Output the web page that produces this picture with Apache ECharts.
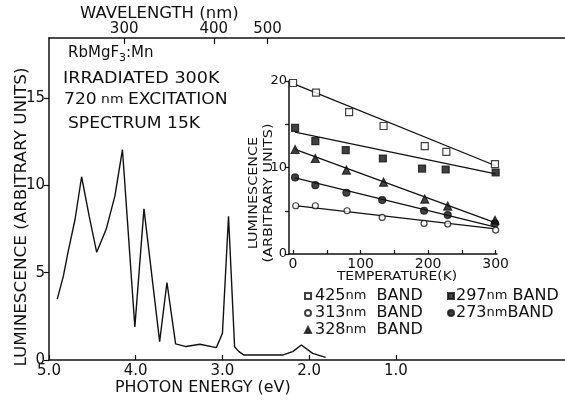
<!DOCTYPE html>
<html>
<head>
<meta charset="utf-8">
<script src="https://cdn.jsdelivr.net/npm/echarts@6/dist/echarts.min.js"></script>
<style>
  html, body { margin: 0; padding: 0; background: #fff; }
  #chart { width: 565px; height: 400px; }
</style>
</head>
<body>
<div id="chart"></div>
<script>
// main spectrum, photon energy (eV) vs luminescence
const energy = [4.905, 4.835, 4.78, 4.70, 4.624, 4.535, 4.45, 4.34, 4.24, 4.153, 4.01, 3.905, 3.724, 3.64, 3.54, 3.42, 3.26, 3.07, 3.0, 2.93, 2.86, 2.81, 2.755, 2.30, 2.19, 2.09, 1.96, 1.81];
const luminescence = [3.49, 4.79, 6.2, 8.05, 10.5, 8.2, 6.17, 7.5, 9.4, 12.05, 1.9, 8.66, 1.05, 4.44, 0.92, 0.77, 0.9, 0.71, 1.53, 8.24, 0.76, 0.48, 0.29, 0.29, 0.48, 0.86, 0.38, 0.15];

const energyTicks = [5, 4, 3, 2, 1];
const lumTicks = [0, 5, 10, 15];
const wavelengthTicks = [300, 400, 500];

// inset: temperature dependence of bands
const temps = [0, 34, 83, 134, 195, 227, 299];
const band425 = [19.77, 18.65, 16.4, 14.8, 12.46, 11.8, 10.4];
const temps297 = [3, 33, 78, 133, 191, 226, 300];
const band297 = [14.58, 13.04, 12.0, 11.04, 9.88, 9.77, 9.42];
const temps328 = [3, 33, 79, 134, 195, 229, 299];
const band328 = [12.08, 11.04, 9.7, 8.3, 6.35, 5.54, 3.9];
const temps273 = [3, 33, 79, 132, 194, 229, 299];
const band273 = [8.85, 7.96, 7.08, 6.23, 5.0, 4.5, 3.54];
const temps313 = [4, 33, 80, 132, 194, 229, 300];
const band313 = [5.58, 5.58, 5.0, 4.23, 3.54, 3.46, 2.77];

// straight fits drawn through each band
const fitT = [3, 300];
const fit425 = [19.6, 10.2];
const fit297 = [14.1, 9.25];
const fit328 = [12.1, 3.6];
const fit273 = [8.8, 3.1];
const fit313 = [5.6, 2.9];

const tempTicks = [0, 50, 100, 150, 200, 250, 300];
const tempLabels = [0, 100, 200, 300];
const insetTicks = [0, 5, 10, 15, 20];
const insetLabels = [0, 10, 20];

const font = 'DejaVu Sans';
const ink = '#111';

const zip = (a, b) => a.map((v, i) => [v, b[i]]);

const chart = echarts.init(document.getElementById('chart'));

const axisLine = { show: true, onZero: false, lineStyle: { color: ink, width: 1.5 } };

function pointSeries(name, t, v, symbol, filled, size) {
  return {
    name: name, type: 'scatter', xAxisIndex: 2, yAxisIndex: 1,
    data: zip(t, v), symbol: symbol, symbolSize: size,
    itemStyle: { color: filled ? ink : '#fff', borderColor: ink, borderWidth: 1.2 },
    z: 5
  };
}
function fitSeries(v) {
  return {
    type: 'line', xAxisIndex: 2, yAxisIndex: 1, data: zip(fitT, v),
    symbol: 'none', lineStyle: { color: ink, width: 1.3 }, silent: true
  };
}

const legendRich = {
  n: { fontFamily: font, fontSize: 16, color: ink },
  u: { fontFamily: font, fontSize: 13, color: ink },
  b: { fontFamily: font, fontSize: 16, color: ink }
};
// gap between "nm" and "BAND" differs per entry in the original
const legendGap = { '425': '  ', '313': '  ', '328': '  ', '297': ' ', '273': '' };
const legendFmt = function (name) {
  const num = name.split(' ')[0];
  return '{n|' + num + '}{u|nm}{b|' + legendGap[num] + 'BAND}';
};

// plain text label helper, stretched a little to match the wide lettering
function label(x, y, text, size, sx, rot) {
  return {
    type: 'text', x: x, y: y, rotation: rot || 0, scaleX: sx,
    style: { text: text, fontFamily: font, fontSize: size, fill: ink, align: rot ? 'center' : 'left', verticalAlign: rot ? 'middle' : 'top', lineHeight: size + 2 }
  };
}

const option = {
  animation: false,
  backgroundColor: '#fff',
  grid: [
    { left: 49, top: 38, right: 0, bottom: 40 },
    { left: 289, top: 81, width: 208, height: 173 }
  ],
  xAxis: [
    {
      type: 'value', gridIndex: 0, min: -0.95, max: 5, inverse: true,
      axisLine: axisLine,
      axisTick: { inside: true, length: 5, lineStyle: { color: ink, width: 1.2 }, customValues: energyTicks },
      axisLabel: { customValues: energyTicks, formatter: v => v.toFixed(1), fontFamily: font, fontSize: 15, color: ink, margin: 4 },
      splitLine: { show: false }
    },
    {
      type: 'value', gridIndex: 0, position: 'top', min: -0.95, max: 5, inverse: true,
      axisLine: axisLine,
      axisTick: { inside: true, length: 6, lineStyle: { color: ink, width: 1.2 }, customValues: wavelengthTicks.map(w => 1240 / w) },
      axisLabel: { customValues: wavelengthTicks.map(w => 1240 / w), formatter: v => String(Math.round(1240 / v)), fontFamily: font, fontSize: 15, color: ink, margin: 1 },
      splitLine: { show: false }
    },
    {
      type: 'value', gridIndex: 1, min: -6, max: 302,
      axisLine: axisLine,
      axisTick: { inside: true, length: 4, lineStyle: { color: ink, width: 1.2 }, customValues: tempTicks },
      axisLabel: { customValues: tempLabels, fontFamily: font, fontSize: 14, color: ink, margin: 3 },
      splitLine: { show: false }
    }
  ],
  yAxis: [
    {
      type: 'value', gridIndex: 0, min: 0, max: 18.45,
      axisLine: axisLine,
      axisTick: { length: 5, lineStyle: { color: ink, width: 1.2 }, customValues: lumTicks },
      axisLabel: { customValues: lumTicks, fontFamily: font, fontSize: 15, color: ink, margin: 4 },
      splitLine: { show: false }
    },
    {
      type: 'value', gridIndex: 1, min: 0, max: 20,
      axisLine: axisLine,
      axisTick: { length: 4, lineStyle: { color: ink, width: 1.2 }, customValues: insetTicks },
      axisLabel: { customValues: insetLabels, fontFamily: font, fontSize: 13, color: ink, margin: 2 },
      splitLine: { show: false }
    }
  ],
  legend: [
    {
      left: 299, top: 283, orient: 'vertical', itemGap: 1, itemWidth: 6, itemHeight: 6,
      data: [
        { name: '425 BAND', icon: 'rect' },
        { name: '313 BAND', icon: 'circle' },
        { name: '328 BAND', icon: 'triangle' }
      ],
      formatter: legendFmt, textStyle: { rich: legendRich, padding: [0, 0, 0, -1] }
    },
    {
      left: 442, top: 283, orient: 'vertical', itemGap: 1, itemWidth: 6, itemHeight: 6,
      data: [
        { name: '297 BAND', icon: 'rect' },
        { name: '273 BAND', icon: 'circle' }
      ],
      formatter: legendFmt, textStyle: { rich: legendRich, padding: [0, 0, 0, -3] }
    }
  ],
  graphic: [
    {
      type: 'text', left: 68, top: 46,
      style: {
        text: '{a|RbMgF}{s|3}{a|:Mn}',
        rich: {
          a: { fontFamily: font, fontSize: 15, fill: ink },
          s: { fontFamily: font, fontSize: 11, fill: ink, padding: [9, 0, 0, 0] }
        }
      }
    },
    label(63, 70, 'IRRADIATED 300K', 16, 1.1),
    {
      type: 'text', x: 64, y: 92, scaleX: 1.07,
      style: {
        text: '{a|720}{u| nm }{a|EXCITATION}',
        rich: {
          a: { fontFamily: font, fontSize: 16, fill: ink },
          u: { fontFamily: font, fontSize: 13, fill: ink }
        }
      }
    },
    label(68, 115, 'SPECTRUM 15K', 16, 1.07),
    label(80, 6, 'WAVELENGTH (nm)', 15, 1.1),
    label(115, 380, 'PHOTON ENERGY (eV)', 15, 1.06),
    label(22, 217, 'LUMINESCENCE (ARBITRARY UNITS)', 15, 1.12, Math.PI / 2),
    label(261, 193, 'LUMINESCENCE\n(ARBITRARY UNITS)', 12.5, 1.15, Math.PI / 2),
    {
      type: 'text', x: 397, y: 277, scaleX: 1.15,
      style: { text: 'TEMPERATURE(K)', fontFamily: font, fontSize: 12, fill: ink, align: 'center', verticalAlign: 'middle' }
    }
  ],
  series: [
    {
      type: 'line', xAxisIndex: 0, yAxisIndex: 0, data: zip(energy, luminescence),
      symbol: 'none', lineStyle: { color: ink, width: 1.4 }, silent: true
    },
    fitSeries(fit425), fitSeries(fit297), fitSeries(fit328), fitSeries(fit273), fitSeries(fit313),
    pointSeries('425 BAND', temps, band425, 'rect', false, 7),
    pointSeries('297 BAND', temps297, band297, 'rect', true, 7),
    pointSeries('328 BAND', temps328, band328, 'triangle', true, 8),
    pointSeries('273 BAND', temps273, band273, 'circle', true, 7),
    pointSeries('313 BAND', temps313, band313, 'circle', false, 6)
  ]
};

chart.setOption(option);
</script>
</body>
</html>
